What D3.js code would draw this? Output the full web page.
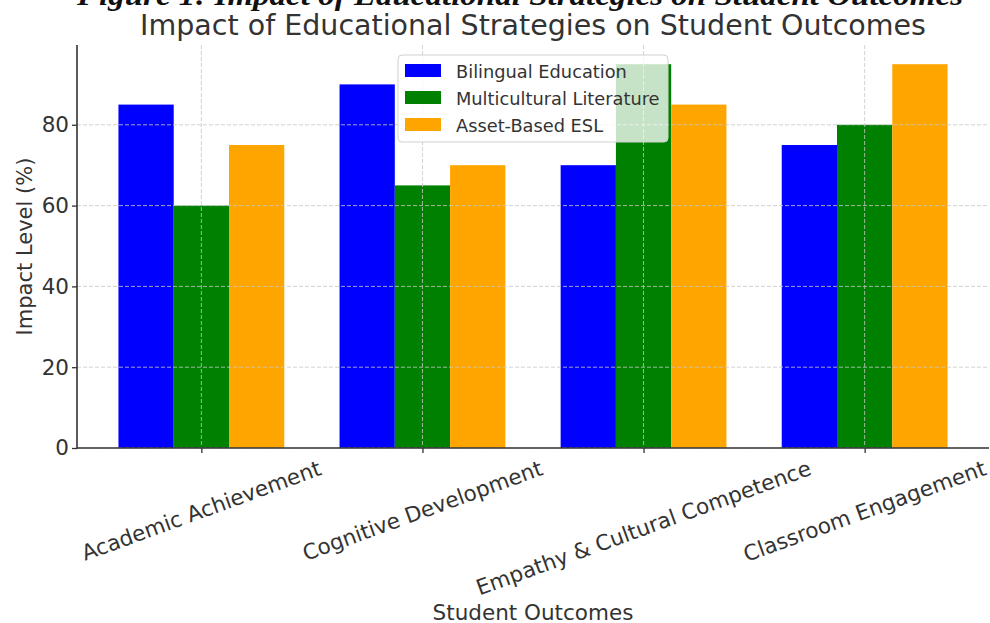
<!DOCTYPE html>
<html><head><meta charset="utf-8">
<script src="https://cdn.jsdelivr.net/npm/d3@7"></script>
<style>html,body{margin:0;padding:0;background:#fff;}svg{display:block;}</style>
</head><body>
<svg id="chart" width="990" height="623"></svg>
<script>
const categories = ["Academic Achievement", "Cognitive Development", "Empathy & Cultural Competence", "Classroom Engagement"];
const seriesNames = ["Bilingual Education", "Multicultural Literature", "Asset-Based ESL"];
const bilingual = [85, 90, 70, 75];
const multicultural = [60, 65, 95, 80];
const assetBased = [75, 70, 85, 95];
const yTicks = [0, 20, 40, 60, 80];
const colors = ["#0000ff", "#008000", "#ffa500"];
const seriesValues = [bilingual, multicultural, assetBased];

(function () {
const svg = d3.select("#chart");
const font = "'DejaVu Sans', sans-serif";
const pLeft = 77, pRight = 989, pTop = 45, pBottom = 448;

const x = d3.scaleLinear().domain([-0.5625, 3.5625]).range([pLeft, pRight]);
const y = d3.scaleLinear().domain([0, 99.75]).range([pBottom, pTop]);
const bw = 0.25;

// cut-off caption at top
svg.append("text").attr("x", 520).attr("y", 5).attr("text-anchor", "middle")
  .attr("font-family", "'Liberation Serif', serif").attr("font-weight", "bold").attr("font-style", "italic")
  .attr("font-size", 30).attr("textLength", 886).attr("lengthAdjust", "spacingAndGlyphs").attr("fill", "#111")
  .text("Figure 1: Impact of Educational Strategies on Student Outcomes");

// bars
seriesValues.forEach((vals, si) => {
  svg.append("g").selectAll("rect").data(vals).join("rect")
    .attr("x", (d, i) => x(i + (si - 1) * bw - bw / 2))
    .attr("width", (d, i) => x(i + (si - 1) * bw + bw / 2) - x(i + (si - 1) * bw - bw / 2))
    .attr("y", d => y(d))
    .attr("height", d => y(0) - y(d))
    .attr("fill", colors[si]);
});

// grid
const grid = svg.append("g").attr("stroke", "#c8c8c8").attr("stroke-dasharray", "4,2").attr("stroke-width", 1).attr("opacity", 0.8);
yTicks.forEach(t => grid.append("line").attr("x1", pLeft).attr("x2", pRight).attr("y1", y(t)).attr("y2", y(t)));
categories.forEach((c, i) => grid.append("line").attr("x1", x(i)).attr("x2", x(i)).attr("y1", pTop).attr("y2", pBottom));

// axes
const yAxis = d3.axisLeft(y).tickValues(yTicks).tickSize(5).tickPadding(3);
const gy = svg.append("g").attr("transform", `translate(${pLeft},0)`).call(yAxis);
gy.select(".domain").remove();
gy.selectAll("line").attr("stroke", "#333").attr("stroke-width", 1.3);
gy.selectAll("text").attr("font-family", font).attr("font-size", 21.5).attr("fill", "#333");

const xAxis = d3.axisBottom(x).tickValues(d3.range(categories.length)).tickSize(5).tickFormat("");
const gx = svg.append("g").attr("transform", `translate(0,${pBottom})`).call(xAxis);
gx.select(".domain").remove();
gx.selectAll("line").attr("stroke", "#333").attr("stroke-width", 1.3);

svg.append("line").attr("x1", pLeft).attr("x2", pLeft).attr("y1", pTop).attr("y2", pBottom + 0.75).attr("stroke", "#333").attr("stroke-width", 1.6);
svg.append("line").attr("x1", pLeft).attr("x2", pRight).attr("y1", pBottom).attr("y2", pBottom).attr("stroke", "#333").attr("stroke-width", 1.6);

// rotated category labels
const ang = 20 * Math.PI / 180;
categories.forEach((c, i) => {
  const t = svg.append("text").attr("font-family", font).attr("font-size", 21.5).attr("fill", "#333")
    .attr("text-anchor", "middle").attr("dominant-baseline", "central").text(c);
  const L = t.node().getComputedTextLength();
  const h = 24;
  const H = L * Math.sin(ang) + h * Math.cos(ang);
  const cy = 456 + H / 2;
  t.attr("transform", `translate(${x(i)},${cy}) rotate(-20)`);
});

// titles
svg.append("text").attr("x", (pLeft + pRight) / 2).attr("y", 35).attr("text-anchor", "middle")
  .attr("font-family", font).attr("font-size", 28.5).attr("fill", "#333")
  .text("Impact of Educational Strategies on Student Outcomes");
svg.append("text").attr("x", (pLeft + pRight) / 2).attr("y", 620).attr("text-anchor", "middle")
  .attr("font-family", font).attr("font-size", 21.5).attr("fill", "#333").text("Student Outcomes");
svg.append("text").attr("transform", `translate(32,${(pTop + pBottom) / 2}) rotate(-90)`).attr("text-anchor", "middle")
  .attr("font-family", font).attr("font-size", 21).attr("fill", "#333").text("Impact Level (%)");

// legend
const lg = svg.append("g").attr("transform", "translate(398,55)");
lg.append("rect").attr("width", 270).attr("height", 87).attr("rx", 4)
  .attr("fill", "#fff").attr("fill-opacity", 0.78).attr("stroke", "#d0d0d0");
seriesNames.forEach((n, i) => {
  const yy = 16 + i * 27;
  lg.append("rect").attr("x", 7).attr("y", yy - 7).attr("width", 36).attr("height", 13).attr("fill", colors[i]);
  lg.append("text").attr("x", 58).attr("y", yy).attr("dominant-baseline", "central")
    .attr("font-family", font).attr("font-size", 17.8).attr("fill", "#333").text(n);
});
})();
</script>
</body></html>
